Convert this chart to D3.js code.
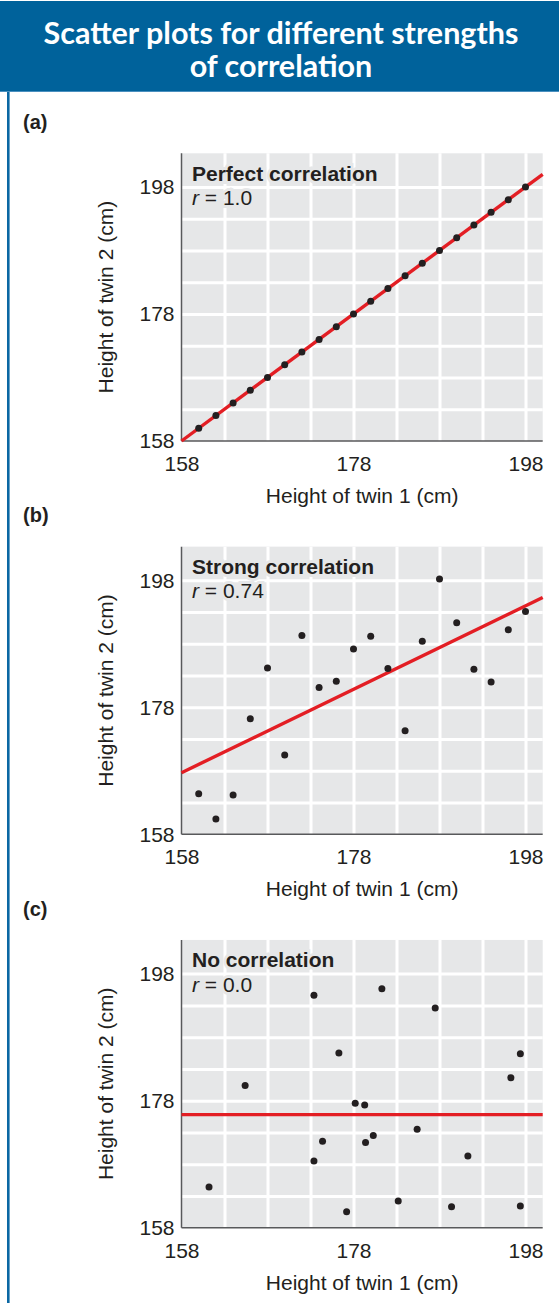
<!DOCTYPE html>
<html>
<head>
<meta charset="utf-8">
<script src="https://cdn.jsdelivr.net/npm/d3@7"></script>
<style>
  body { margin: 0; background: #fff; }
  svg { display: block; }
</style>
</head>
<body>
<svg id="chart" width="559" height="1303"></svg>
<script>
// title + panel labels
const titleLines = ["Scatter plots for different strengths", "of correlation"];
const panelLetters = ["(a)", "(b)", "(c)"];
const panelTitles = ["Perfect correlation", "Strong correlation", "No correlation"];
const rValues = ["1.0", "0.74", "0.0"];

// axis ticks
const axisTicks = [158, 178, 198];
const gridTicks = [163, 168, 173, 178, 183, 188, 193, 198];

// (a) perfect correlation
const perfectTwin1 = [160, 162, 164, 166, 168, 170, 172, 174, 176, 178, 180, 182, 184, 186, 188, 190, 192, 194, 196, 198];
const perfectTwin2 = [160, 162, 164, 166, 168, 170, 172, 174, 176, 178, 180, 182, 184, 186, 188, 190, 192, 194, 196, 198];

// (b) strong correlation
const strongTwin1 = [160, 162, 164, 166, 168, 170, 172, 174, 176, 178, 180, 182, 184, 186, 188, 190, 192, 194, 196, 198];
const strongTwin2 = [164.4, 160.4, 164.2, 176.2, 184.2, 170.5, 189.3, 181.1, 182.1, 187.2, 189.2, 184.1, 174.3, 188.4, 198.2, 191.3, 184, 182, 190.2, 193.1];

// (c) no correlation
const noneTwin1 = [161.2, 165.4, 173.4, 173.4, 174.4, 176.3, 177.2, 178.2, 179.3, 179.4, 180.3, 181.3, 183.2, 185.4, 187.5, 189.4, 191.3, 196.3, 197.4, 197.4];
const noneTwin2 = [164.4, 180.4, 194.6, 168.5, 171.6, 185.5, 160.5, 177.6, 177.3, 171.4, 172.5, 195.6, 162.2, 173.5, 192.6, 161.3, 169.3, 181.6, 185.4, 161.4];

// red fit lines: value of twin 2 at x = 158 and x = 200
const fitStart = [158, 167.7, 175.8];
const fitEnd = [200, 195.3, 175.8];

const panelX = [perfectTwin1, strongTwin1, noneTwin1];
const panelY = [perfectTwin2, strongTwin2, noneTwin2];

const blue = "#00629b";
const plotBg = "#e6e7e8";
const ink = "#231f20";
const red = "#e31e24";
const font = "'Liberation Sans', Arial, Helvetica, sans-serif";

const svg = d3.select("#chart");

// header band
svg.append("rect")
  .attr("x", 0).attr("y", 1)
  .attr("width", 559).attr("height", 91)
  .attr("fill", blue);
svg.append("line")
  .attr("x1", 0).attr("x2", 559)
  .attr("y1", 91.5).attr("y2", 91.5)
  .attr("stroke", "#4a90bf").attr("stroke-width", 1);

// left border
svg.append("line")
  .attr("x1", 8.3).attr("x2", 8.3)
  .attr("y1", 92).attr("y2", 1303)
  .attr("stroke", "#0a67a3").attr("stroke-width", 2.6);

svg.selectAll(".title")
  .data(titleLines)
  .enter().append("text")
  .attr("class", "title")
  .attr("x", 281)
  .attr("y", (d, i) => 43.5 + i * 33)
  .attr("text-anchor", "middle")
  .style("font-family", "Lato, 'Open Sans', sans-serif")
  .style("font-weight", "bold")
  .style("font-size", "30.5px")
  .style("fill", "#fff")
  .text(d => d);

// plot geometry (panel a), other panels shifted down
const plotLeft = 181.5, plotRight = 542.7, plotTop = 153.3, plotBottom = 441;
const panelStep = 393.33;

const x = d3.scaleLinear().domain([158, 200]).range([plotLeft, plotRight]);
const y = d3.scaleLinear().domain([158, 203.3]).range([plotBottom, plotTop]);

for (let p = 0; p < 3; p++) {
  const g = svg.append("g")
    .attr("transform", "translate(0," + (p * panelStep) + ")");

  g.append("text")
    .attr("x", 23)
    .attr("y", 129)
    .text(panelLetters[p])
    .style("font-family", font)
    .style("font-weight", "bold")
    .style("font-size", "20px")
    .style("fill", ink);

  g.append("rect")
    .attr("x", plotLeft).attr("y", plotTop)
    .attr("width", plotRight - plotLeft).attr("height", plotBottom - plotTop)
    .attr("fill", plotBg);

  // grid lines
  const gx = g.append("g")
    .attr("transform", "translate(0," + plotBottom + ")")
    .call(d3.axisBottom(x).tickValues(gridTicks).tickSize(-(plotBottom - plotTop)).tickFormat(""));
  const gy = g.append("g")
    .attr("transform", "translate(" + plotLeft + ",0)")
    .call(d3.axisLeft(y).tickValues(gridTicks).tickSize(-(plotRight - plotLeft)).tickFormat(""));
  [gx, gy].forEach(a => {
    a.select(".domain").remove();
    a.selectAll(".tick line").attr("stroke", "#fff").attr("stroke-width", 3);
  });

  // axis lines
  g.append("line")
    .attr("x1", plotLeft).attr("x2", plotLeft)
    .attr("y1", plotTop).attr("y2", plotBottom)
    .attr("stroke", "#58595b").attr("stroke-width", 1.5);
  g.append("line")
    .attr("x1", plotLeft).attr("x2", plotRight)
    .attr("y1", plotBottom).attr("y2", plotBottom)
    .attr("stroke", "#58595b").attr("stroke-width", 1.5);

  // tick labels
  const ax = g.append("g")
    .attr("transform", "translate(0," + plotBottom + ")")
    .call(d3.axisBottom(x).tickValues(axisTicks).tickSize(0).tickPadding(15));
  const ay = g.append("g")
    .attr("transform", "translate(" + plotLeft + ",0)")
    .call(d3.axisLeft(y).tickValues(axisTicks).tickSize(0).tickPadding(7));
  [ax, ay].forEach(a => {
    a.select(".domain").remove();
    a.selectAll("text")
      .style("font-family", font)
      .style("font-size", "21px")
      .style("fill", ink);
  });

  // axis titles
  g.append("text")
    .attr("x", (plotLeft + plotRight) / 2)
    .attr("y", 503)
    .attr("text-anchor", "middle")
    .text("Height of twin 1 (cm)")
    .style("font-family", font)
    .style("font-size", "21px")
    .style("fill", ink);
  g.append("text")
    .attr("transform", "translate(113," + ((plotTop + plotBottom) / 2) + ") rotate(-90)")
    .attr("text-anchor", "middle")
    .text("Height of twin 2 (cm)")
    .style("font-family", font)
    .style("font-size", "21px")
    .style("fill", ink);

  // panel label inside plot
  g.append("text")
    .attr("x", 192)
    .attr("y", 180.7)
    .text(panelTitles[p])
    .style("font-family", font)
    .style("font-weight", "bold")
    .style("font-size", "21px")
    .style("fill", ink)
    .style("stroke", plotBg)
    .style("stroke-width", 6)
    .style("paint-order", "stroke");
  const rt = g.append("text")
    .attr("x", 192)
    .attr("y", 205)
    .style("font-family", font)
    .style("font-size", "21px")
    .style("fill", ink)
    .style("stroke", plotBg)
    .style("stroke-width", 6)
    .style("paint-order", "stroke");
  rt.append("tspan").style("font-style", "italic").text("r");
  rt.append("tspan").text(" = " + rValues[p]);

  // fit line
  g.append("line")
    .attr("x1", x(158)).attr("y1", y(fitStart[p]))
    .attr("x2", x(200)).attr("y2", y(fitEnd[p]))
    .attr("stroke", red)
    .attr("stroke-width", 3.4);

  // points
  const pts = panelX[p].map((v, i) => ({ t1: v, t2: panelY[p][i] }));
  g.selectAll(".dot")
    .data(pts)
    .enter().append("circle")
    .attr("class", "dot")
    .attr("cx", d => x(d.t1))
    .attr("cy", d => y(d.t2))
    .attr("r", 3.5)
    .attr("fill", ink);
}
</script>
</body>
</html>
